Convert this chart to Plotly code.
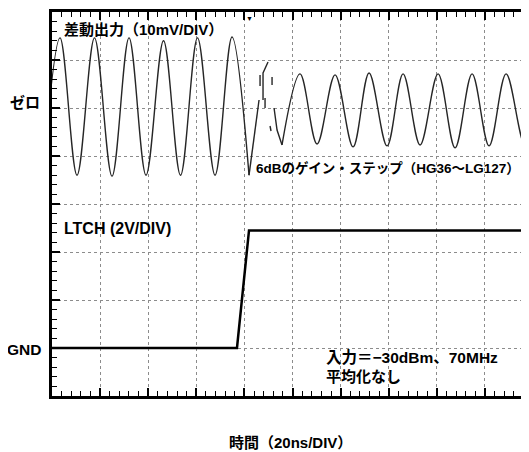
import plotly.graph_objects as go

# ---- data (time in ns, 20 ns/DIV) ----
# Differential output (mV, 10 mV/DIV) before the gain step: extrema of the 70 MHz sine
diff1_t = [-3.8, 3.33, 10.40, 17.67, 24.95, 32.02, 39.09, 46.36, 53.43, 60.50, 67.78, 74.84, 81.91]
diff1_mv = [-14.0, 14.6, -14.0, 14.6, -14.2, 14.6, -14.0, 14.0, -14.0, 14.6, -14.0, 14.8, -14.0]

# Glitch at the gain step (None = break in the trace)
glitch_t = [81.91, 84.82, 86.07, None, 86.49, 86.49, None, 87.73, 87.73, 89.81, None,
            88.57, 88.57, None, 91.48, 91.48, None, 90.64, 91.06, None, 92.31, 93.56, 95.63]
glitch_mv = [-14.0, -2.5, 1.67, None, 6.88, 4.58, None, 1.67, 7.29, 9.58, None,
             2.08, 0.0, None, 6.46, 4.79, None, -3.75, -4.79, None, 0.0, -4.58, -7.71]

# Differential output after the 6 dB gain step
diff2_t = [95.63, 103.12, 110.19, 117.67, 125.16, 131.81, 139.29, 145.95, 153.02, 160.50,
           167.57, 174.64, 181.71, 188.78, 196.67, 203.74]
diff2_mv = [-7.7, 7.1, -7.5, 6.9, -8.1, 7.3, -7.9, 7.1, -7.7, 7.1,
            -8.3, 7.1, -7.9, 7.1, -7.7, 7.1]

# LTCH signal (V, 2 V/DIV)
ltch_t = [0.0, 76.9, 81.9, 200.0]
ltch_v = [0.0, 0.0, 4.9, 4.9]

# ---- scope settings ----
MV_PER_DIV = 10.0
V_PER_DIV = 2.0
ZERO_DIV = 6.0   # "ゼロ" reference level
GND_DIV = 1.0    # "GND" reference level
T_VISIBLE = 198.3


def to_div(vals, per_div, offset):
    return [None if v is None else offset + v / per_div for v in vals]


FONT = "Liberation Sans, Noto Sans CJK JP, sans-serif"
wave_color = "#262626"

fig = go.Figure()
fig.add_trace(go.Scatter(x=diff1_t, y=to_div(diff1_mv, MV_PER_DIV, ZERO_DIV), mode="lines",
                         line=dict(color=wave_color, width=1.4, shape="spline", smoothing=1.0),
                         hoverinfo="skip", showlegend=False))
fig.add_trace(go.Scatter(x=glitch_t, y=to_div(glitch_mv, MV_PER_DIV, ZERO_DIV), mode="lines",
                         line=dict(color=wave_color, width=1.4), connectgaps=False,
                         hoverinfo="skip", showlegend=False))
fig.add_trace(go.Scatter(x=diff2_t, y=to_div(diff2_mv, MV_PER_DIV, ZERO_DIV), mode="lines",
                         line=dict(color=wave_color, width=1.4, shape="spline", smoothing=1.0),
                         hoverinfo="skip", showlegend=False))
fig.add_trace(go.Scatter(x=ltch_t, y=to_div(ltch_v, V_PER_DIV, GND_DIV), mode="lines",
                         line=dict(color="black", width=2.5),
                         hoverinfo="skip", showlegend=False))

grid = dict(showgrid=True, gridcolor="#8c8c8c", gridwidth=1, griddash="dot")

# the page body has an 8px margin, so the figure is offset by 8px
fig.update_layout(
    width=521, height=444,
    margin=dict(l=44, r=0, t=4, b=56),
    paper_bgcolor="white", plot_bgcolor="white",
    showlegend=False,
    xaxis=dict(range=[0, T_VISIBLE], dtick=20, tick0=0, **grid,
               showline=True, linecolor="black", linewidth=2.5, mirror="ticks",
               ticks="inside", ticklen=8, tickwidth=1.5, tickcolor="black",
               minor=dict(ticks="inside", ticklen=5, dtick=4, tickwidth=1.3, tickcolor="black"),
               showticklabels=False, zeroline=False),
    yaxis=dict(range=[0, 8], dtick=1, tick0=0, **grid,
               showline=True, linecolor="black", linewidth=2.5,
               ticks="inside", ticklen=8, tickwidth=1.5, tickcolor="black",
               minor=dict(ticks="inside", ticklen=5, dtick=0.2, tickwidth=1.3, tickcolor="black"),
               showticklabels=False, zeroline=False),
    yaxis2=dict(range=[0, 8], dtick=1, tick0=0, overlaying="y", side="right", anchor="x",
                showgrid=False, showline=False, zeroline=False,
                ticks="inside", ticklen=7, tickwidth=1.5, tickcolor="black",
                showticklabels=False),
)


def px_x(px):
    return (px - 52) / 477.0


def px_y(py):
    return (396 - py) / 384.0


anns = [
    dict(text="差動出力（10mV/DIV）", x=px_x(62), y=px_y(29.5), xanchor="left", size=15),
    dict(text="ゼロ", x=px_x(42), y=px_y(103), xanchor="right", size=15),
    dict(text="GND", x=px_x(42.5), y=px_y(349), xanchor="right", size=15.5),
    dict(text="LTCH (2V/DIV)", x=px_x(62), y=px_y(228), xanchor="left", size=16),
    dict(text="6dBのゲイン・ステップ（HG36～LG127）", x=px_x(254), y=px_y(168), xanchor="left", size=13.5),
    dict(text="入力＝−30dBm、70MHz", x=px_x(324), y=px_y(357), xanchor="left", size=15.5),
    dict(text="平均化なし", x=px_x(324), y=px_y(376), xanchor="left", size=15),
    dict(text="時間（20ns/DIV）", x=px_x(290), y=px_y(442), xanchor="center", size=15),
]
for a in anns:
    size = a.pop("size")
    fig.add_annotation(xref="paper", yref="paper", yanchor="middle", showarrow=False,
                       font=dict(family=FONT, size=size, color="black", weight="bold"), **a)

# trigger marker
fig.add_annotation(xref="paper", yref="paper", x=px_x(249.5), y=1.0, yanchor="top",
                   text="▼", showarrow=False, font=dict(size=7, color="black"))

fig.write_html("out.html")
